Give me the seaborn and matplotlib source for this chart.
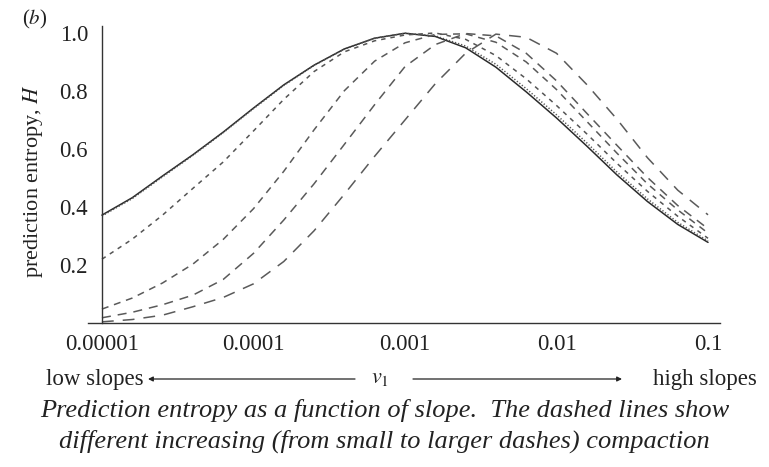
import matplotlib
matplotlib.use("Agg")
import matplotlib.pyplot as plt
import matplotlib.ticker as mticker
from matplotlib.patches import FancyArrowPatch
import pandas as pd
import seaborn as sns

# slope values v1 (log-spaced sample points, 1e-5 .. 1e-1)
v1 = [1.0e-05, 1.585e-05, 2.512e-05, 3.981e-05, 6.310e-05,
      1.0e-04, 1.585e-04, 2.512e-04, 3.981e-04, 6.310e-04,
      1.0e-03, 1.585e-03, 2.512e-03, 3.981e-03, 6.310e-03,
      1.0e-02, 1.585e-02, 2.512e-02, 3.981e-02, 6.310e-02,
      1.0e-01]

# prediction entropy H for each compaction level
h_solid = [0.372, 0.432, 0.507, 0.580, 0.658, 0.741, 0.821, 0.889, 0.945, 0.982,
           0.999, 0.988, 0.949, 0.882, 0.797, 0.707, 0.610, 0.510, 0.419, 0.340, 0.278]
h_dotted = [0.369, 0.429, 0.504, 0.578, 0.656, 0.739, 0.819, 0.888, 0.944, 0.982,
            0.999, 0.990, 0.955, 0.892, 0.808, 0.718, 0.621, 0.520, 0.428, 0.347, 0.283]
h_dash1 = [0.220, 0.289, 0.372, 0.464, 0.555, 0.662, 0.771, 0.867, 0.935, 0.973,
           0.993, 1.000, 0.978, 0.922, 0.842, 0.750, 0.652, 0.550, 0.454, 0.368, 0.292]
h_dash2 = [0.048, 0.086, 0.138, 0.203, 0.288, 0.394, 0.523, 0.666, 0.801, 0.903,
           0.966, 0.995, 0.997, 0.968, 0.900, 0.805, 0.695, 0.585, 0.480, 0.390, 0.310]
h_dash3 = [0.018, 0.037, 0.063, 0.096, 0.150, 0.240, 0.355, 0.480, 0.616, 0.753,
           0.884, 0.960, 0.998, 0.990, 0.930, 0.835, 0.723, 0.612, 0.502, 0.405, 0.325]
h_dash4 = [0.004, 0.012, 0.027, 0.056, 0.088, 0.135, 0.212, 0.318, 0.444, 0.575,
           0.700, 0.825, 0.930, 0.996, 0.985, 0.930, 0.822, 0.702, 0.570, 0.458, 0.373]

curves = {"solid": h_solid, "dotted": h_dotted, "dash1": h_dash1,
          "dash2": h_dash2, "dash3": h_dash3, "dash4": h_dash4}

x_ticks = [1e-5, 1e-4, 1e-3, 1e-2, 1e-1]
x_ticklabels = ["0.00001", "0.0001", "0.001", "0.01", "0.1"]
y_ticks = [0.2, 0.4, 0.6, 0.8, 1.0]
y_ticklabels = ["0.2", "0.4", "0.6", "0.8", "1.0"]

df = pd.concat(
    [pd.DataFrame({"v1": v1, "H": h, "curve": name}) for name, h in curves.items()],
    ignore_index=True,
)

sns.set_style("white")
plt.rcParams["font.family"] = ["Liberation Serif", "DejaVu Serif"]
plt.rcParams["mathtext.fontset"] = "stix"
plt.rcParams["lines.scale_dashes"] = False

W, Hpx = 769, 467
fig = plt.figure(figsize=(W / 100, Hpx / 100), dpi=100)
ax = fig.add_axes([88 / W, 144 / Hpx, 632 / W, 297 / Hpx])

palette = {"solid": "#2a2a2a", "dotted": "#555555", "dash1": "#555555",
           "dash2": "#5a5a5a", "dash3": "#5a5a5a", "dash4": "#5a5a5a"}
dashes = {"solid": "", "dotted": (0.9, 1.4), "dash1": (3.2, 3.6),
          "dash2": (5.0, 4.2), "dash3": (6.5, 5.0), "dash4": (8.5, 6.5)}

sns.lineplot(data=df, x="v1", y="H", hue="curve", style="curve",
             palette=palette, dashes=dashes, estimator=None, sort=False,
             linewidth=1.1, legend=False, ax=ax)

ax.set_xscale("log")
ax.set_xlim(10 ** -5.092, 10 ** -0.921)
ax.set_ylim(0, 1.024)

for side in ("top", "right"):
    ax.spines[side].set_visible(False)
ax.spines["left"].set_position(("data", 1e-5))
ax.spines["bottom"].set_position(("data", 0))
for side in ("left", "bottom"):
    ax.spines[side].set_color("#333333")
    ax.spines[side].set_linewidth(1.0)

ax.set_xticks(x_ticks)
ax.set_xticklabels(x_ticklabels)
ax.xaxis.set_minor_locator(mticker.LogLocator(base=10, subs=range(2, 10)))
ax.xaxis.set_minor_formatter(mticker.NullFormatter())
ax.set_yticks(y_ticks)
ax.set_yticklabels(y_ticklabels)
ax.yaxis.set_minor_locator(mticker.MultipleLocator(0.05))

ax.tick_params(axis="both", which="major", direction="in", length=4, width=0.8,
               color="#444444", labelsize=16.5, labelcolor="#222222")
ax.tick_params(axis="both", which="minor", direction="in", length=2.2, width=0.6,
               color="#555555")
ax.tick_params(axis="x", which="major", pad=8)
ax.tick_params(axis="y", which="major", pad=10)
ax.set_xlabel("")
ax.set_ylabel("")

def fy(y):
    return 1 - y / Hpx

fig.text(33 / W, fy(181), r"prediction entropy, $H$", rotation=90,
         ha="center", va="center", fontsize=16, color="#222222")
fig.text(22 / W, fy(19), r"($b$)", ha="left", va="center", fontsize=15,
         color="#222222")

# slope direction row
row_y = fy(379)
fig.text(144 / W, row_y, "low slopes", ha="right", va="center", fontsize=16.5,
         color="#222222")
fig.text(380 / W, row_y, r"$v_1$", ha="center", va="center", fontsize=16,
         color="#222222")
fig.text(653 / W, row_y, "high slopes", ha="left", va="center", fontsize=16.5,
         color="#222222")
arrow_kw = dict(arrowstyle="-|>", lw=0.9, color="#222222", mutation_scale=7,
                shrinkA=0, shrinkB=0)
fig.add_artist(FancyArrowPatch((355 / W, row_y), (148 / W, row_y),
                               transform=fig.transFigure, **arrow_kw))
fig.add_artist(FancyArrowPatch((413 / W, row_y), (622 / W, row_y),
                               transform=fig.transFigure, **arrow_kw))

# caption
fig.text(385 / W, fy(411),
         "Prediction entropy as a function of slope.  The dashed lines show",
         ha="center", va="center", fontsize=19, style="italic", color="#222222")
fig.text(384 / W, fy(441),
         "different increasing (from small to larger dashes) compaction",
         ha="center", va="center", fontsize=19, style="italic", color="#222222")

fig.savefig("out.png", dpi=100, facecolor="white")
